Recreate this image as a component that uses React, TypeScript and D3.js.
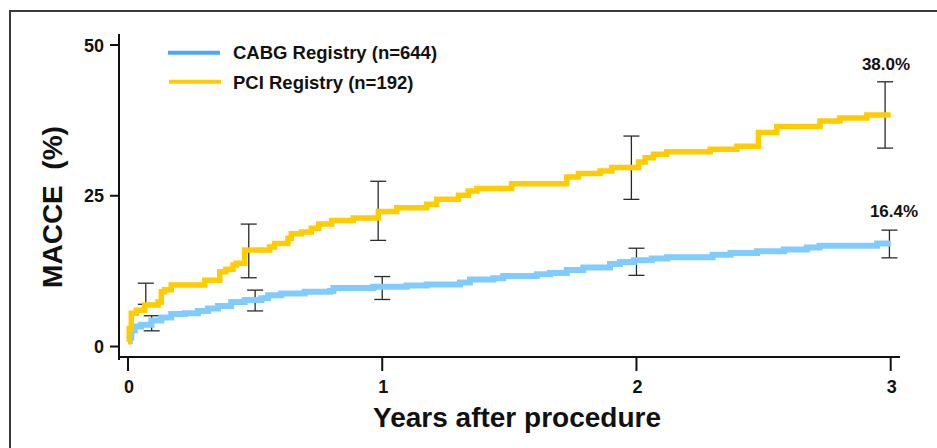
import React from "react";
import * as d3 from "d3";

// ---- data ----
const cabgTimes = [0, 0.007, 0.013, 0.026, 0.052, 0.092, 0.131, 0.17, 0.223, 0.275, 0.315, 0.354, 0.406, 0.459, 0.524, 0.551, 0.603, 0.695, 0.795, 0.808, 0.965, 1.096, 1.175, 1.306, 1.345, 1.437, 1.476, 1.608, 1.66, 1.726, 1.791, 1.896, 1.935, 1.99, 2.06, 2.12, 2.3, 2.37, 2.474, 2.58, 2.67, 2.72, 2.946, 3.0];
const cabgValues = [0.9, 1.5, 2.7, 3.3, 3.6, 4.3, 4.8, 5.4, 5.5, 5.9, 6.3, 6.7, 7.4, 7.7, 8.0, 8.5, 8.8, 9.1, 9.2, 9.7, 9.9, 10.1, 10.3, 10.6, 11.1, 11.3, 11.7, 12.0, 12.2, 12.7, 13.1, 13.7, 14.0, 14.3, 14.6, 14.8, 15.2, 15.5, 15.8, 16.1, 16.4, 16.7, 17.1, 17.1];

const pciTimes = [0, 0.005, 0.013, 0.033, 0.066, 0.118, 0.131, 0.144, 0.17, 0.302, 0.361, 0.385, 0.413, 0.426, 0.459, 0.557, 0.577, 0.629, 0.642, 0.682, 0.721, 0.75, 0.801, 0.886, 0.985, 1.057, 1.175, 1.214, 1.3, 1.339, 1.372, 1.509, 1.726, 1.772, 1.857, 1.903, 2.008, 2.034, 2.067, 2.119, 2.29, 2.395, 2.48, 2.552, 2.722, 2.8, 2.906, 3.0];
const pciValues = [0.8, 3.0, 5.5, 6.0, 6.9, 7.4, 9.1, 9.4, 10.2, 11.0, 12.4, 12.8, 13.5, 13.8, 16.0, 16.5, 17.1, 17.9, 18.7, 19.0, 19.6, 20.3, 20.9, 21.3, 22.4, 23.0, 23.6, 24.4, 25.1, 25.8, 26.2, 27.0, 28.1, 28.7, 29.1, 29.7, 30.6, 31.3, 31.9, 32.3, 32.7, 33.2, 35.5, 36.5, 37.4, 37.9, 38.4, 38.4];

const cabgErrTimes = [0.093, 0.5, 1.0, 2.0, 2.995];
const cabgErrLow = [2.6, 5.9, 7.8, 11.8, 14.7];
const cabgErrHigh = [5.1, 9.35, 11.6, 16.3, 19.3];

const pciErrTimes = [0.07, 0.475, 0.984, 1.98, 2.978];
const pciErrLow = [7.0, 11.4, 17.6, 24.4, 32.9];
const pciErrHigh = [10.5, 20.3, 27.4, 34.9, 43.9];

const xTicks = [0, 1, 2, 3];
const yTicks = [0, 25, 50];
const seriesNames = ["CABG Registry (n=644)", "PCI Registry (n=192)"];
const endLabels = ["16.4%", "38.0%"];

const FONT = "'Liberation Sans', Arial, Helvetica, sans-serif";
const BLUE = "#80ccff";
const BLUE_LEGEND = "#4da6f7";
const YELLOW = "#ffcc00";

export default function App() {
  const x = d3.scaleLinear().domain([0, 3]).range([128, 890.7]);
  const y = d3.scaleLinear().domain([0, 50]).range([346.5, 45]);

  const line = d3
    .line<[number, number]>()
    .x((d) => x(d[0]))
    .y((d) => y(d[1]))
    .curve(d3.curveStepAfter);

  const cabg: [number, number][] = cabgTimes.map((t, i) => [t, cabgValues[i]]);
  const pci: [number, number][] = pciTimes.map((t, i) => [t, pciValues[i]]);

  const errBars = (times: number[], lo: number[], hi: number[], key: string) =>
    times.map((t, i) => {
      const cx = x(t);
      return (
        <g key={key + i} stroke="#2a2a2a" strokeWidth={1.3} fill="none">
          <line x1={cx} x2={cx} y1={y(lo[i])} y2={y(hi[i])} />
          <line x1={cx - 8} x2={cx + 8} y1={y(lo[i])} y2={y(lo[i])} />
          <line x1={cx - 8} x2={cx + 8} y1={y(hi[i])} y2={y(hi[i])} />
        </g>
      );
    });

  return (
    <svg
      width={937}
      height={448}
      style={{ position: "absolute", left: 0, top: 0, background: "#fff" }}
      fontFamily={FONT}
    >
      <rect x={0} y={0} width={937} height={448} fill="#fff" />
      <rect x={10} y={11} width={1000} height={500} fill="none" stroke="#3a3a3a" strokeWidth={2} />

      {/* axes */}
      <line x1={119} x2={119} y1={34} y2={360} stroke="#111" strokeWidth={2} />
      <line x1={118} x2={900} y1={357} y2={357} stroke="#111" strokeWidth={2} />
      {yTicks.map((t) => (
        <g key={"yt" + t}>
          <line x1={110} x2={119} y1={y(t)} y2={y(t)} stroke="#111" strokeWidth={2} />
          <text x={104} y={y(t) + 6.5} textAnchor="end" fontSize={18} fontWeight="bold" fill="#111">
            {t}
          </text>
        </g>
      ))}
      {xTicks.map((t) => (
        <g key={"xt" + t}>
          <line x1={x(t)} x2={x(t)} y1={357} y2={371} stroke="#111" strokeWidth={2} />
          <text x={x(t) + 1} y={393} textAnchor="middle" fontSize={18} fontWeight="bold" fill="#111">
            {t}
          </text>
        </g>
      ))}

      {/* axis titles */}
      <text x={517} y={427} textAnchor="middle" fontSize={28} fontWeight="bold" fill="#111">
        Years after procedure
      </text>
      <text
        transform="translate(62,207) rotate(-90)"
        textAnchor="middle"
        fontSize={28}
        fontWeight="bold"
        fill="#111"
        style={{ whiteSpace: "pre" }}
      >
        {"MACCE  (%)"}
      </text>

      {/* error bars */}
      {errBars(pciErrTimes, pciErrLow, pciErrHigh, "pe")}
      {errBars(cabgErrTimes, cabgErrLow, cabgErrHigh, "ce")}

      {/* curves */}
      <path d={line(cabg) || ""} fill="none" stroke={BLUE} strokeWidth={6} />
      <path d={line(pci) || ""} fill="none" stroke={YELLOW} strokeWidth={5.5} />

      {/* end labels */}
      <text x={894} y={217} textAnchor="middle" fontSize={17} fontWeight="bold" fill="#111">
        {endLabels[0]}
      </text>
      <text x={886} y={70} textAnchor="middle" fontSize={17} fontWeight="bold" fill="#111">
        {endLabels[1]}
      </text>

      {/* legend */}
      <line x1={168} x2={220} y1={52.7} y2={52.7} stroke={BLUE_LEGEND} strokeWidth={4} />
      <text x={233} y={59} fontSize={18.5} fontWeight="bold" fill="#111">
        {seriesNames[0]}
      </text>
      <line x1={169} x2={221} y1={81.7} y2={81.7} stroke={YELLOW} strokeWidth={4} />
      <text x={233} y={88.5} fontSize={18.5} fontWeight="bold" fill="#111">
        {seriesNames[1]}
      </text>
    </svg>
  );
}
